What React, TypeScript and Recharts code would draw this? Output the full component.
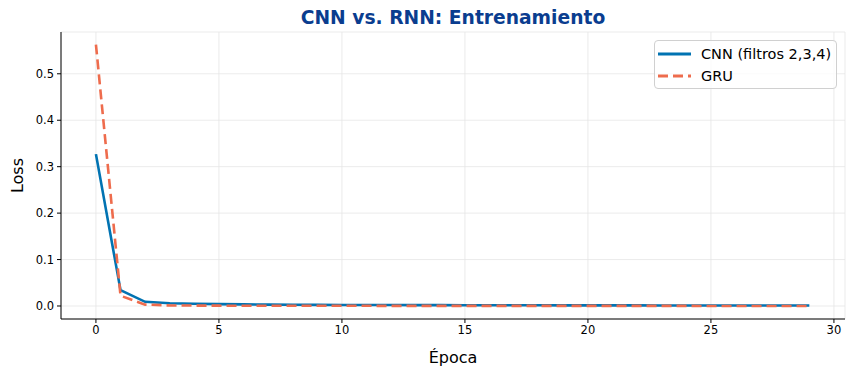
import React from 'react';
import { LineChart, Line, XAxis, YAxis, CartesianGrid, Label } from 'recharts';

const EPOCHS = [
  0, 1, 2, 3, 4, 5, 6, 7, 8, 9, 10, 11, 12, 13, 14, 15, 16, 17, 18, 19, 20, 21, 22, 23, 24, 25, 26, 27, 28, 29,
];
const CNN_LOSS = [
  0.327, 0.034, 0.009, 0.006, 0.005, 0.004, 0.0035, 0.003, 0.0028, 0.0025, 0.0023, 0.0021, 0.002, 0.0019, 0.0018,
  0.0017, 0.0016, 0.0015, 0.0015, 0.0014, 0.0014, 0.0013, 0.0013, 0.0012, 0.0012, 0.0012, 0.0011, 0.0011, 0.0011, 0.001,
];
const GRU_LOSS = [
  0.563, 0.022, 0.003, 0.0012, 0.0009, 0.0007, 0.0006, 0.0005, 0.0005, 0.0004, 0.0004, 0.0004, 0.0003, 0.0003, 0.0003,
  0.0003, 0.0003, 0.0002, 0.0002, 0.0002, 0.0002, 0.0002, 0.0002, 0.0002, 0.0002, 0.0001, 0.0001, 0.0001, 0.0001, 0.0001,
];
const X_TICKS = [0, 5, 10, 15, 20, 25, 30];
const Y_TICKS = [0, 0.1, 0.2, 0.3, 0.4, 0.5];

const SERIES = [
  { key: 'cnn', name: 'CNN (filtros 2,3,4)', color: '#0173b2', dash: undefined },
  { key: 'gru', name: 'GRU', color: '#ee6c4d', dash: '10 5' },
];

const data = EPOCHS.map((e, i) => ({ epoch: e, cnn: CNN_LOSS[i], gru: GRU_LOSS[i] }));

const FONT = '"DejaVu Sans", sans-serif';

function LegendBox() {
  return (
    <div
      style={{
        position: 'absolute',
        top: 40,
        left: 654,
        width: 183,
        height: 49,
        boxSizing: 'border-box',
        border: '1px solid #d0d0d0',
        borderRadius: 4,
        background: 'rgba(255,255,255,0.8)',
        padding: '2px 0 0 3px',
        fontFamily: FONT,
        fontSize: 14.5,
        color: '#000',
      }}
    >
      {SERIES.map((s) => (
        <div key={s.key} style={{ display: 'flex', alignItems: 'center', height: 22 }}>
          <svg width={34} height={10} style={{ marginRight: 9 }}>
            <line x1={0} y1={5} x2={33} y2={5} stroke={s.color} strokeWidth={3} strokeDasharray={s.dash} />
          </svg>
          <span>{s.name}</span>
        </div>
      ))}
    </div>
  );
}

export default function App() {
  return (
    <div style={{ position: 'absolute', left: 0, top: 0, width: 854, height: 374, background: '#fff' }}>
      <div
        style={{
          position: 'absolute',
          left: 61,
          width: 784,
          top: 7,
          textAlign: 'center',
          fontFamily: FONT,
          fontWeight: 'bold',
          fontSize: 18.7,
          color: '#0a3d8f',
        }}
      >
        CNN vs. RNN: Entrenamiento
      </div>
      <LineChart width={854} height={374} data={data} margin={{ top: 32, right: 9, bottom: 0, left: 0 }}>
        <CartesianGrid stroke="#e6e6e6" strokeWidth={0.8} />
        <XAxis
          dataKey="epoch"
          type="number"
          domain={[-1.42, 30.45]}
          ticks={X_TICKS}
          allowDataOverflow
          height={55}
          stroke="#000"
          tick={{ fill: '#000', fontSize: 11.5, fontFamily: FONT }}
          tickSize={4}
          tickMargin={3}
        >
          <Label value="Época" position="insideBottom" offset={11} style={{ fontSize: 16, fontFamily: FONT, fill: '#000' }} />
        </XAxis>
        <YAxis
          type="number"
          domain={[-0.028, 0.59]}
          ticks={Y_TICKS}
          allowDataOverflow
          width={61}
          stroke="#000"
          tickFormatter={(v: number) => v.toFixed(1)}
          tick={{ fill: '#000', fontSize: 11.5, fontFamily: FONT }}
          tickSize={4}
          tickMargin={3}
        >
          <Label
            value="Loss"
            angle={-90}
            position="insideLeft"
            offset={17}
            style={{ fontSize: 16, fontFamily: FONT, fill: '#000', textAnchor: 'middle' }}
          />
        </YAxis>
        {SERIES.map((s) => (
          <Line
            key={s.key}
            dataKey={s.key}
            name={s.name}
            stroke={s.color}
            strokeWidth={2.6}
            strokeDasharray={s.dash}
            dot={false}
            isAnimationActive={false}
            type="linear"
          />
        ))}
      </LineChart>
      <LegendBox />
    </div>
  );
}
